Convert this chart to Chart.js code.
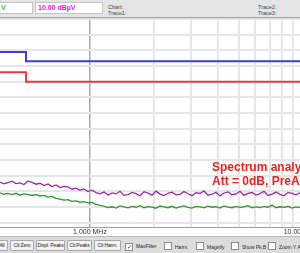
<!DOCTYPE html>
<html>
<head>
<meta charset="utf-8">
<script src="https://cdn.jsdelivr.net/npm/chart.js@4.4.0/dist/chart.umd.min.js"></script>
<style>
body{margin:0;width:300px;height:253px;overflow:hidden;background:#dedede;position:relative;font-family:"Liberation Sans",Arial,sans-serif}
#top{position:absolute;left:0;top:0;width:300px;height:17px;background:#e4e4e4;border-bottom:1px solid #a4a4a4}
.box{position:absolute;top:2px;height:12px;background:#fff;border:1px solid #c4c4c4;box-sizing:border-box;overflow:hidden;white-space:nowrap}
.small{position:absolute;font-size:5.5px;color:#444;line-height:6px;white-space:nowrap}
#plot{position:absolute;left:0;top:19px;width:300px;height:217px;background:#fff}
#note{position:absolute;left:212px;top:160px;color:#e82222;font:bold 12px "Liberation Sans",Arial,sans-serif;line-height:14px;white-space:nowrap}
#bottom{position:absolute;left:0;top:236px;width:300px;height:17px;background:#dcdcdc;border-top:1px solid #bcbcbc}
.btn{position:absolute;top:3px;height:11px;box-sizing:border-box;background:#f2f2f2;border:1px solid #a8a8a8;border-radius:1px;font-size:5px;letter-spacing:-0.15px;line-height:9px;color:#222;text-align:center;white-space:nowrap;overflow:hidden}
.chk{position:absolute;top:5px;font-size:5px;line-height:8px;color:#222;white-space:nowrap}
.chk i{display:inline-block;width:6px;height:6px;border:1px solid #8a8a8a;background:#fff;vertical-align:-1px;margin-right:3px;font-style:normal;font-size:6px;line-height:6px;color:#224;text-align:center}
</style>
</head>
<body>
<div id="top">
  <div class="box" style="left:-2px;width:35px"><span style="position:absolute;left:2px;top:1px;font-size:7px;font-weight:bold;color:#22cc22">V</span></div>
  <div class="box" style="left:35px;width:68px"><span style="position:absolute;left:2px;top:1px;font-size:7px;font-weight:bold;color:#e020e0">10.00 dBµV</span></div>
  <div class="small" style="left:108px;top:4px">Chart:</div>
  <div class="small" style="left:108px;top:10px">Trace1:</div>
  <div class="small" style="left:258px;top:4px">Trace2:</div>
  <div class="small" style="left:258px;top:10px">Trace3:</div>
</div>
<div id="plot"><canvas id="spectrum" width="300" height="217"></canvas></div>
<div id="note">Spectrum analyzer<br>Att = 0dB, PreAmp</div>
<div id="bottom">
  <div class="btn" style="left:-4px;width:12px">All</div>
  <div class="btn" style="left:10px;width:24px">Clr.Zero</div>
  <div class="btn" style="left:36px;width:29px">Displ. Peaks</div>
  <div class="btn" style="left:67px;width:25px">Clr.Peaks</div>
  <div class="btn" style="left:94px;width:27px">Clr.Harm.</div>
  <div class="chk" style="left:125px"><i>✓</i>MaxFilter</div>
  <div class="chk" style="left:164px"><i></i>Harm.</div>
  <div class="chk" style="left:196px"><i></i>Magnify</div>
  <div class="chk" style="left:231px"><i></i>Show Pk.B</div>
  <div class="chk" style="left:268px"><i></i>Zoom Y Axis</div>
</div>
<script>
// limit lines (dBµV), step at 0.5 MHz
const limitFreq = [0.15, 0.5, 0.5, 30];
const qpLimit = [79, 79, 73, 73];
const avLimit = [66, 66, 60, 60];

// scan points (MHz) and measured traces (dBµV)
const scanFreq = [
  0.377, 0.394, 0.411, 0.430, 0.449, 0.469, 0.489, 0.511, 0.534, 0.557,
  0.582, 0.608, 0.635, 0.663, 0.692, 0.723, 0.755, 0.788, 0.823, 0.860,
  0.898, 0.937, 0.979, 1.022, 1.067, 1.115, 1.164, 1.216, 1.270, 1.326,
  1.385, 1.446, 1.510, 1.577, 1.647, 1.720, 1.796, 1.876, 1.959, 2.045,
  2.136, 2.230, 2.329, 2.432, 2.540, 2.652, 2.770, 2.892, 3.020, 3.154,
  3.294, 3.440, 3.592, 3.751, 3.917, 4.091, 4.272, 4.461, 4.659, 4.865,
  5.080, 5.305, 5.540, 5.786, 6.042, 6.310, 6.589, 6.881, 7.186, 7.504,
  7.836, 8.183, 8.546, 8.924, 9.320, 9.732
];
const peakTrace = [
  -4.0, -5.1, -4.4, -3.5, -5.0, -4.6, -5.6, -3.3, -4.2, -5.4,
  -4.8, -6.3, -5.2, -6.9, -5.9, -7.6, -6.8, -7.1, -8.6, -7.9,
  -9.3, -8.4, -10.1, -9.2, -10.8, -11.6, -10.4, -12.3, -11.0, -11.6,
  -9.9, -12.5, -12.0, -10.6, -11.4, -12.8, -10.2, -11.1, -12.4, -9.8,
  -11.7, -12.6, -11.2, -10.5, -12.2, -11.9, -10.1, -11.5, -12.7, -10.8,
  -11.3, -9.7, -12.4, -11.8, -10.6, -12.9, -11.0, -10.3, -12.1, -11.6,
  -9.9, -12.5, -11.2, -10.7, -12.3, -11.4, -10.0, -12.6, -11.7, -10.4,
  -11.9, -12.8, -10.6, -11.3, -12.2, -10.9
];
const avgTrace = [
  -10.9, -11.8, -11.3, -12.0, -11.2, -12.4, -11.6, -12.1, -12.6, -12.0,
  -12.9, -12.5, -13.6, -13.2, -14.4, -14.9, -15.6, -15.2, -16.3, -16.0,
  -16.9, -16.5, -17.3, -17.0, -18.2, -18.9, -19.4, -20.3, -19.8, -20.6,
  -19.2, -19.9, -20.5, -19.6, -20.1, -19.1, -20.4, -19.7, -20.0, -20.7,
  -19.3, -19.9, -20.4, -19.5, -20.6, -19.8, -19.2, -20.2, -20.6, -19.6,
  -19.9, -20.5, -19.4, -20.1, -19.7, -20.6, -19.3, -20.0, -20.4, -19.5,
  -20.2, -19.8, -19.1, -20.5, -19.9, -20.3, -19.6, -20.1, -18.7, -20.4,
  -19.8, -20.2, -19.5, -20.6, -19.9, -20.3
];

const gridFreq = [1, 2, 3, 4, 5, 6, 7, 8, 9, 10];
const levelTicks = [-30, -20, -10, 0, 10, 20, 30, 40, 50, 60, 70, 80, 90, 100];

function pts(xs, ys) {
    return xs.map((x, i) => ({x: x, y: ys[i]}));
}

new Chart(document.getElementById('spectrum'), {
    type: 'line',
    data: {
        datasets: [
            {data: pts(scanFreq, peakTrace), borderColor: '#9b2aa3', borderWidth: 1.3, pointRadius: 0, tension: 0},
            {data: pts(scanFreq, avgTrace), borderColor: '#2e9a2e', borderWidth: 1.3, pointRadius: 0, tension: 0},
            {data: pts(limitFreq, qpLimit), borderColor: '#3b3be8', borderWidth: 2, pointRadius: 0},
            {data: pts(limitFreq, avLimit), borderColor: '#ea3a3a', borderWidth: 2, pointRadius: 0}
        ]
    },
    options: {
        responsive: false,
        animation: false,
        devicePixelRatio: 1,
        layout: {padding: 0, autoPadding: false},
        plugins: {legend: {display: false}, tooltip: {enabled: false}},
        scales: {
            x: {
                type: 'logarithmic',
                min: 0.3773,
                max: 9.73,
                afterBuildTicks: s => { s.ticks = gridFreq.map(v => ({value: v})); },
                afterFit: s => { s.height = 9; s.paddingLeft = 0; s.paddingRight = 0; },
                grid: {
                    drawTicks: false,
                    color: c => c.tick && c.tick.value === 1 ? '#ababab' : '#e6e6e6',
                    lineWidth: c => c.tick && c.tick.value === 1 ? 1.5 : 2
                },
                border: {display: true, color: '#a0a0a0', width: 1},
                ticks: {
                    autoSkip: false,
                    maxRotation: 0,
                    minRotation: 0,
                    padding: 1,
                    color: '#333',
                    font: {size: 7, family: '"Liberation Sans", Arial, sans-serif'},
                    callback: v => v === 1 ? '1.000 MHz' : (v === 10 ? '10.000 MHz' : '')
                }
            },
            y: {
                type: 'linear',
                min: -32.7,
                max: 100,
                afterBuildTicks: s => { s.ticks = levelTicks.map(v => ({value: v})); },
                afterFit: s => { s.width = 0; },
                grid: {drawTicks: false, color: '#e6e6e6', lineWidth: 2},
                border: {display: false},
                ticks: {display: false}
            }
        }
    }
});
</script>
</body>
</html>
